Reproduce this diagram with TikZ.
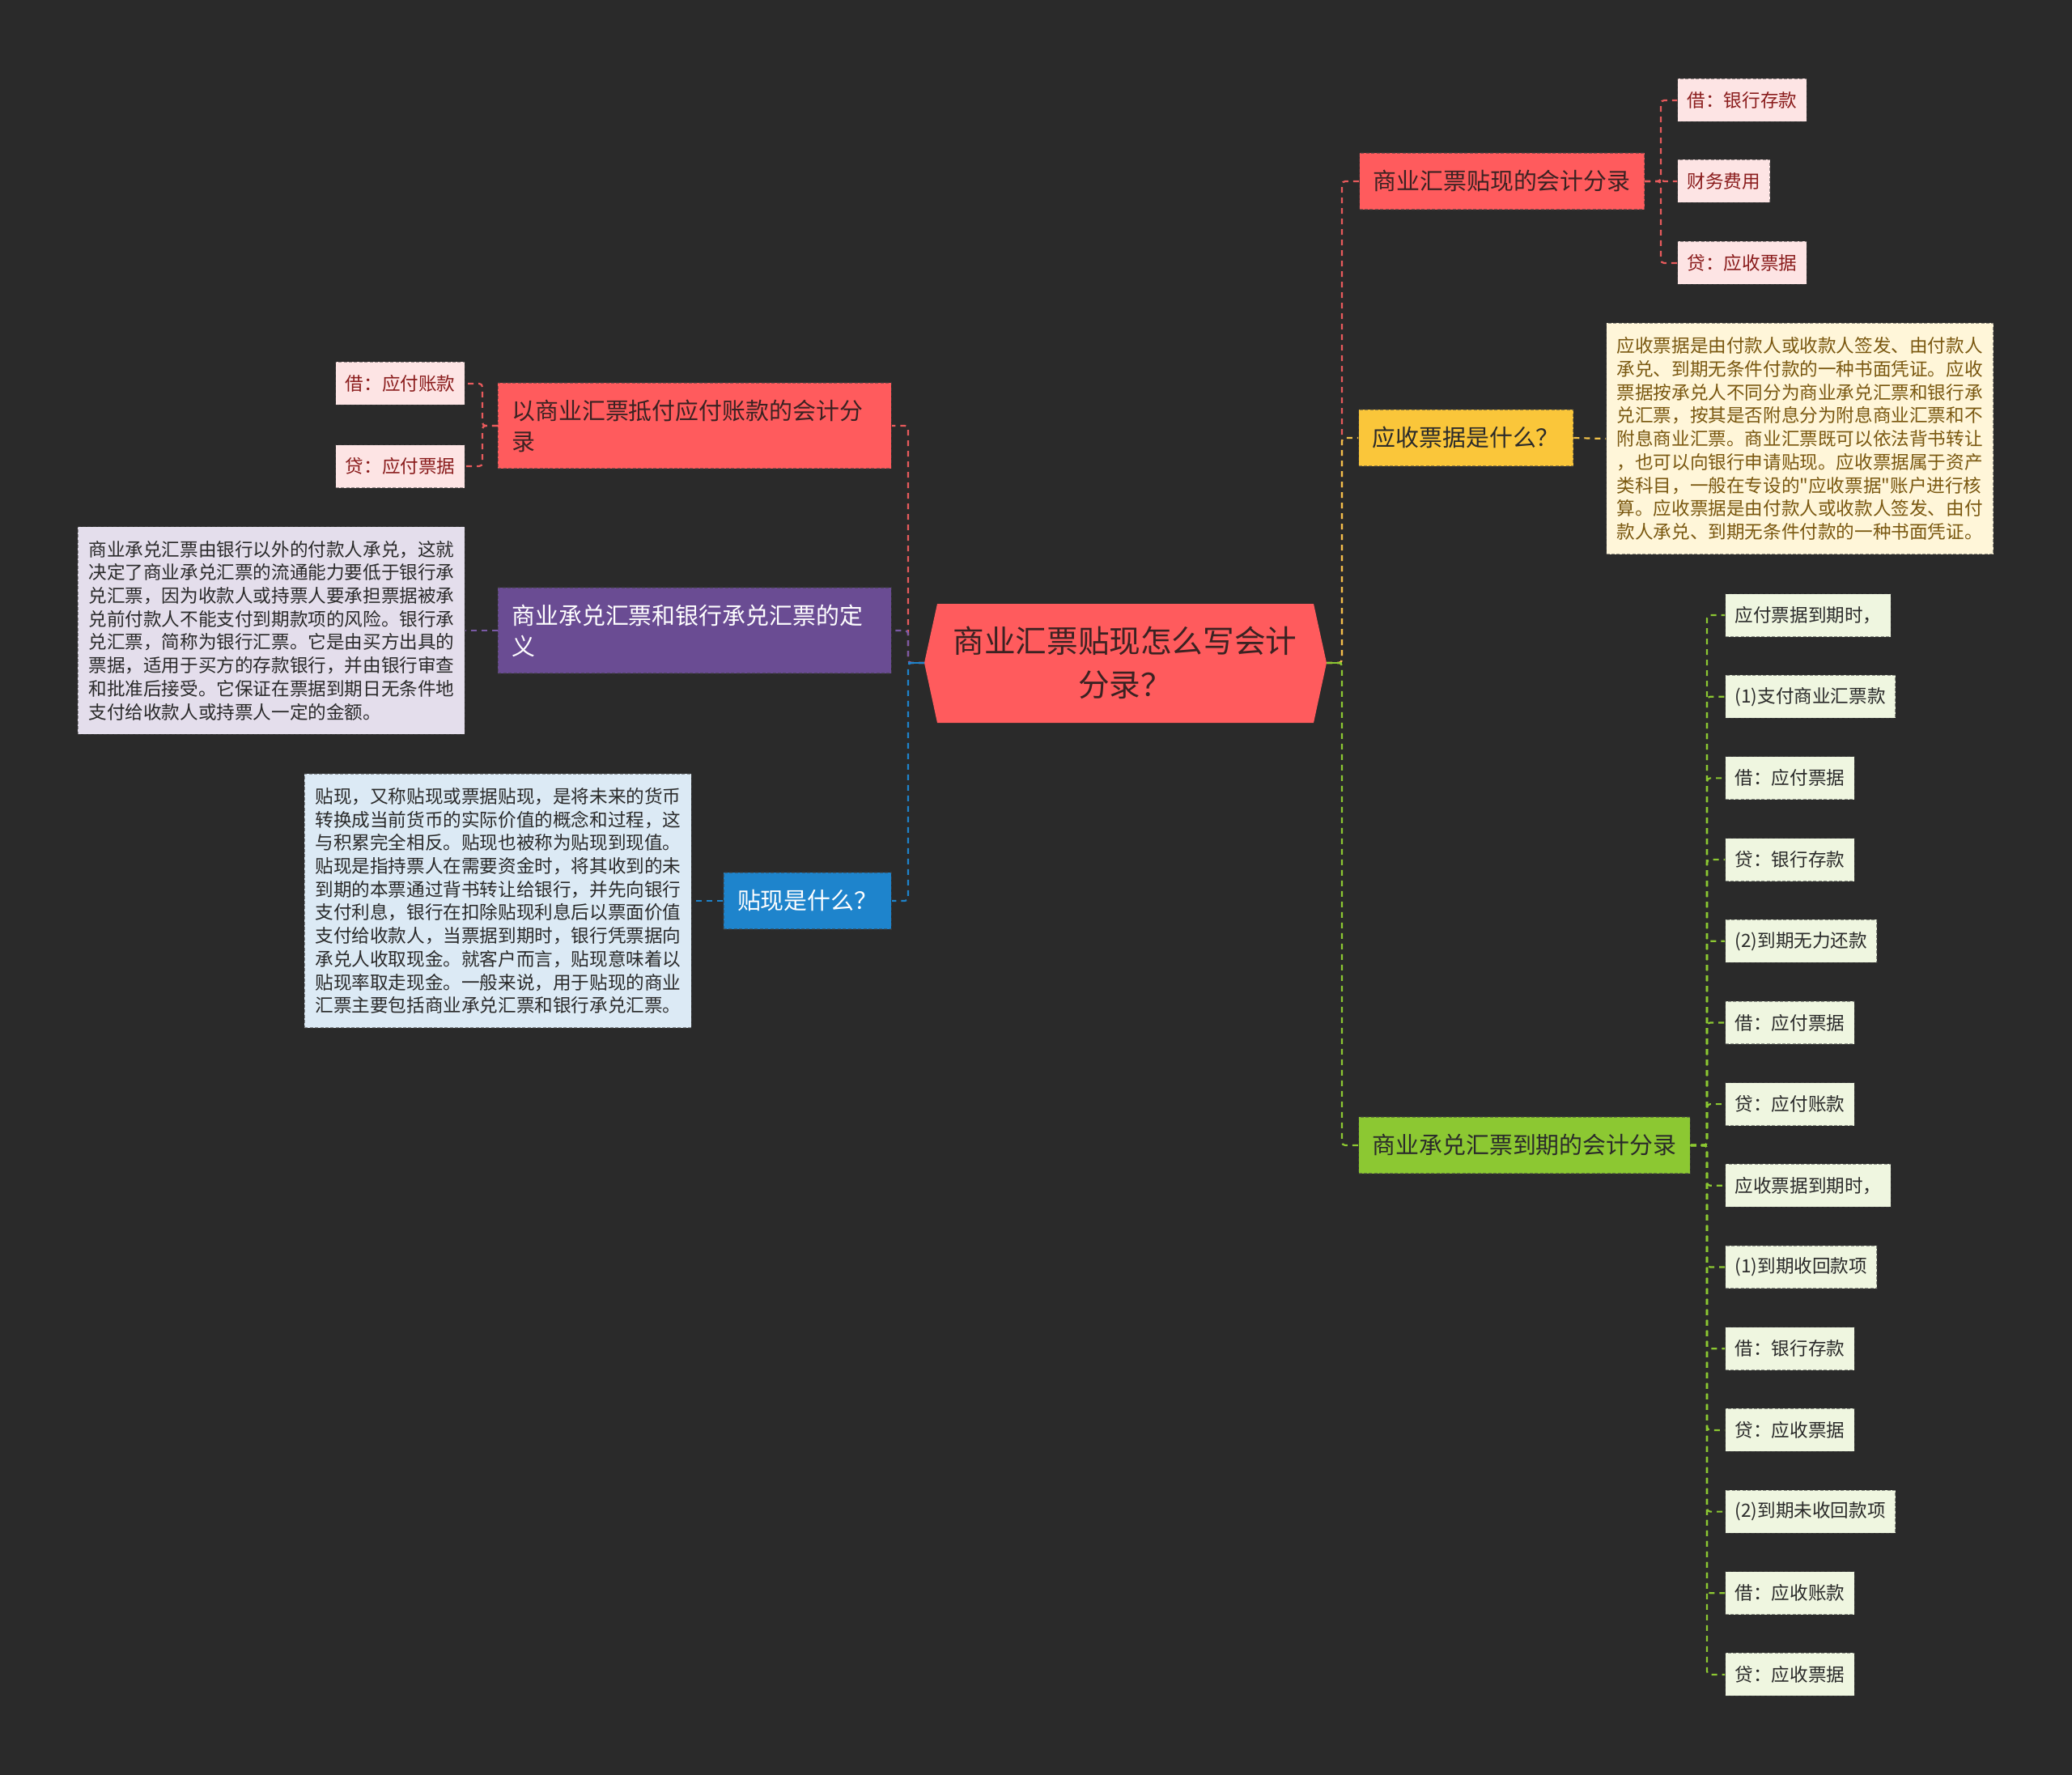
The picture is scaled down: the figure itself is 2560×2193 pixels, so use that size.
\documentclass[tikz,border=0pt]{standalone}
\usepackage{fontspec}
\setmainfont{Noto Sans CJK SC}
\newfontfamily\plainq{Noto Sans CJK SC}
\newcommand{\sq}{{\plainq\symbol{34}}}
\definecolor{bg}{HTML}{2A2A2A}
\definecolor{redF}{HTML}{FF5B5D}
\definecolor{redT}{HTML}{3B2222}
\definecolor{redC}{HTML}{E85A5C}
\definecolor{pinkF}{HTML}{FDE4E4}
\definecolor{pinkT}{HTML}{8A1C1C}
\definecolor{yelF}{HTML}{FAC63A}
\definecolor{yelC}{HTML}{F2C24A}
\definecolor{creamF}{HTML}{FFF6D9}
\definecolor{creamT}{HTML}{7A5810}
\definecolor{grnF}{HTML}{8CC832}
\definecolor{grnC}{HTML}{8CC832}
\definecolor{grnL}{HTML}{EFF6E0}
\definecolor{purF}{HTML}{6A4C93}
\definecolor{purC}{HTML}{7A5AA6}
\definecolor{lavF}{HTML}{E4DEEC}
\definecolor{bluF}{HTML}{1E84CC}
\definecolor{bluC}{HTML}{1E84CC}
\definecolor{lbF}{HTML}{DCEAF5}
\definecolor{darkT}{HTML}{2A2A2A}
\tikzset{
 nb/.style={draw=black!75, draw opacity=0.55, dash pattern=on 2pt off 1.2pt, line width=0.6pt},
 branch/.style={nb, inner xsep=8.5pt, inner ysep=0pt, minimum height=35pt, font=\fontsize{14.45pt}{19pt}\selectfont},
 branch2/.style={branch, align=left, text width=226pt, minimum height=53pt},
 leaf/.style={nb, inner xsep=6pt, inner ysep=0pt, minimum height=26.5pt, font=\fontsize{11.3pt}{14pt}\selectfont},
 para/.style={nb, align=left, text width=226pt, inner xsep=6.5pt, inner ysep=8.7pt, font=\fontsize{11.3pt}{14.35pt}\selectfont},
 conn/.style={line width=1.1pt, dash pattern=on 3.5pt off 3pt, rounded corners=2pt},
}
\begin{document}
\begin{tikzpicture}[x=0.5pt,y=-0.5pt]
\fill[bg] (0,0) rectangle (2560,2193);
\useasboundingbox (0,0) rectangle (2560,2193);

% root
\fill[redF] (1158,746) -- (1623,746) -- (1639,819) -- (1623,893) -- (1158,893) -- (1142,819) -- cycle;
\node[align=center, text=redT, font=\fontsize{19.3pt}{27pt}\selectfont] (root) at (1390,819) {商业汇票贴现怎么写会计\\分录？};
\coordinate (rootR) at (1639,819);
\coordinate (rootL) at (1142,819);
\coordinate (trunkR) at (1658,819);
\coordinate (trunkL) at (1122,819);

% right branches
\node[branch, fill=redF, text=redT, anchor=west] (bR1) at (1679,224) {商业汇票贴现的会计分录};
\node[branch, fill=yelF, text=darkT, anchor=west] (bY) at (1678,541) {应收票据是什么？};
\node[branch, fill=grnF, text=darkT, anchor=west] (bG) at (1678,1415) {商业承兑汇票到期的会计分录};

% left branches
\node[branch2, fill=redF, text=redT, anchor=east] (bL1) at (1102,526) {以商业汇票抵付应付账款的会计分\\录};
\node[branch2, fill=purF, text=white, anchor=east] (bP) at (1102,779) {商业承兑汇票和银行承兑汇票的定\\义};
\node[branch, fill=bluF, text=white, anchor=east] (bB) at (1102,1113) {贴现是什么？};

% trunk connectors
\draw[conn, redC] (rootR) -- (trunkR) |- (bR1.west);
\draw[conn, yelC] (rootR) -- (trunkR) |- (bY.west);
\draw[conn, grnC] (rootR) -- (trunkR) |- (bG.west);
\draw[grnC, line width=1.1pt] (rootR) -- (trunkR);
\draw[conn, redC] (rootL) -- (trunkL) |- (bL1.east);
\draw[conn, purC] (rootL) -- (trunkL) |- (bP.east);
\draw[conn, bluC] (rootL) -- (trunkL) |- (bB.east);
\draw[bluC, line width=1.1pt] (rootL) -- (trunkL);

% leaves of bR1
\coordinate (r1v) at (2052,224);
\node[leaf, fill=pinkF, text=pinkT, anchor=west] (r1a) at (2072,124) {借：银行存款};
\node[leaf, fill=pinkF, text=pinkT, anchor=west] (r1b) at (2072,224) {财务费用};
\node[leaf, fill=pinkF, text=pinkT, anchor=west] (r1c) at (2072,325) {贷：应收票据};
\foreach \n in {r1a,r1b,r1c} \draw[conn, redC] (bR1.east) -- (r1v) |- (\n.west);

% leaves of bL1
\coordinate (l1v) at (596,526);
\node[leaf, fill=pinkF, text=pinkT, anchor=east] (l1a) at (575,474) {借：应付账款};
\node[leaf, fill=pinkF, text=pinkT, anchor=east] (l1b) at (575,576) {贷：应付票据};
\foreach \n in {l1a,l1b} \draw[conn, redC] (bL1.west) -- (l1v) |- (\n.east);

% paragraphs
\node[para, fill=creamF, text=creamT, anchor=west] (tY) at (1984,542) {应收票据是由付款人或收款人签发、由付款人\\承兑、到期无条件付款的一种书面凭证。应收\\票据按承兑人不同分为商业承兑汇票和银行承\\兑汇票，按其是否附息分为附息商业汇票和不\\附息商业汇票。商业汇票既可以依法背书转让\\，也可以向银行申请贴现。应收票据属于资产\\类科目，一般在专设的\sq 应收票据\sq 账户进行核\\算。应收票据是由付款人或收款人签发、由付\\款人承兑、到期无条件付款的一种书面凭证。};
\draw[conn, yelC] (bY.east) -- (tY.west);

\node[para, fill=lavF, text=darkT, anchor=east] (tP) at (575,779) {商业承兑汇票由银行以外的付款人承兑，这就\\决定了商业承兑汇票的流通能力要低于银行承\\兑汇票，因为收款人或持票人要承担票据被承\\兑前付款人不能支付到期款项的风险。银行承\\兑汇票，简称为银行汇票。它是由买方出具的\\票据，适用于买方的存款银行，并由银行审查\\和批准后接受。它保证在票据到期日无条件地\\支付给收款人或持票人一定的金额。};
\draw[conn, purC] (bP.west) -- (tP.east);

\node[para, fill=lbF, text=darkT, anchor=east] (tB) at (855,1113) {贴现，又称贴现或票据贴现，是将未来的货币\\转换成当前货币的实际价值的概念和过程，这\\与积累完全相反。贴现也被称为贴现到现值。\\贴现是指持票人在需要资金时，将其收到的未\\到期的本票通过背书转让给银行，并先向银行\\支付利息，银行在扣除贴现利息后以票面价值\\支付给收款人，当票据到期时，银行凭票据向\\承兑人收取现金。就客户而言，贴现意味着以\\贴现率取走现金。一般来说，用于贴现的商业\\汇票主要包括商业承兑汇票和银行承兑汇票。};
\draw[conn, bluC] (bB.west) -- (tB.east);

% leaves of bG
\coordinate (gv) at (2109,1415);
\foreach \t [count=\i from 0] in {{应付票据到期时，},{(1)支付商业汇票款},{借：应付票据},{贷：银行存款},{(2)到期无力还款},{借：应付票据},{贷：应付账款},{应收票据到期时，},{(1)到期收回款项},{借：银行存款},{贷：应收票据},{(2)到期未收回款项},{借：应收账款},{贷：应收票据}}{
  \node[leaf, fill=grnL, text=darkT, anchor=west] (gl\i) at (2131,{760+\i*100.69}) {\t};
  \draw[conn, grnC] (bG.east) -- (gv) |- (gl\i.west);
}
\end{tikzpicture}
\end{document}
